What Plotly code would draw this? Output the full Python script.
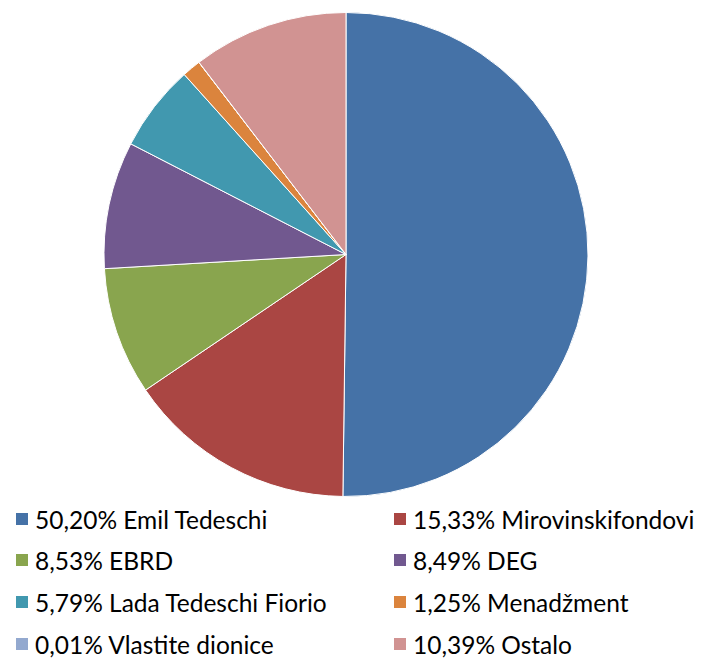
import plotly.graph_objects as go

labels = ["Emil Tedeschi", "Mirovinskifondovi", "EBRD", "DEG", "Lada Tedeschi Fiorio",
          "Menadžment", "Vlastite dionice", "Ostalo"]
values = [50.20, 15.33, 8.53, 8.49, 5.79, 1.25, 0.01, 10.39]
pct_text = ["50,20%", "15,33%", "8,53%", "8,49%", "5,79%", "1,25%", "0,01%", "10,39%"]
colors = ["#4572A7", "#AA4643", "#89A54E", "#71588F", "#4198AF", "#DB843D", "#93A9CF", "#D19392"]

OFF = 8  # page body margin
W, H = 697, 652


def px(x):
    return (x - OFF) / W


def py(y):
    return (H - (y - OFF)) / H


fig = go.Figure()
fig.add_trace(go.Pie(
    labels=labels, values=values, sort=False, direction="clockwise", rotation=0,
    marker=dict(colors=colors, line=dict(color="white", width=1)),
    textinfo="none", hoverinfo="label+percent", showlegend=False,
    domain=dict(x=[px(104), px(588)], y=[py(497), py(12)]),
))

font = dict(family="Lato, Liberation Sans, sans-serif", size=24.5, color="#000000")
row_y = [519, 560, 602, 644]
col_sq = [16, 394]
for i, (lab, p, c) in enumerate(zip(labels, pct_text, colors)):
    r, k = divmod(i, 2)
    y = row_y[r]
    x0 = col_sq[k]
    fig.add_shape(type="rect", xref="paper", yref="paper",
                  x0=px(x0), x1=px(x0 + 12), y0=py(y + 6), y1=py(y - 6),
                  fillcolor=c, line=dict(width=0))
    fig.add_annotation(xref="paper", yref="paper", x=px(x0 + 17), y=py(y),
                       xanchor="left", yanchor="middle", showarrow=False,
                       text=f"{p} {lab}", font=font)

fig.update_layout(width=W, height=H, margin=dict(l=0, r=0, t=0, b=0),
                  paper_bgcolor="white", plot_bgcolor="white")
fig.write_html("out.html")
